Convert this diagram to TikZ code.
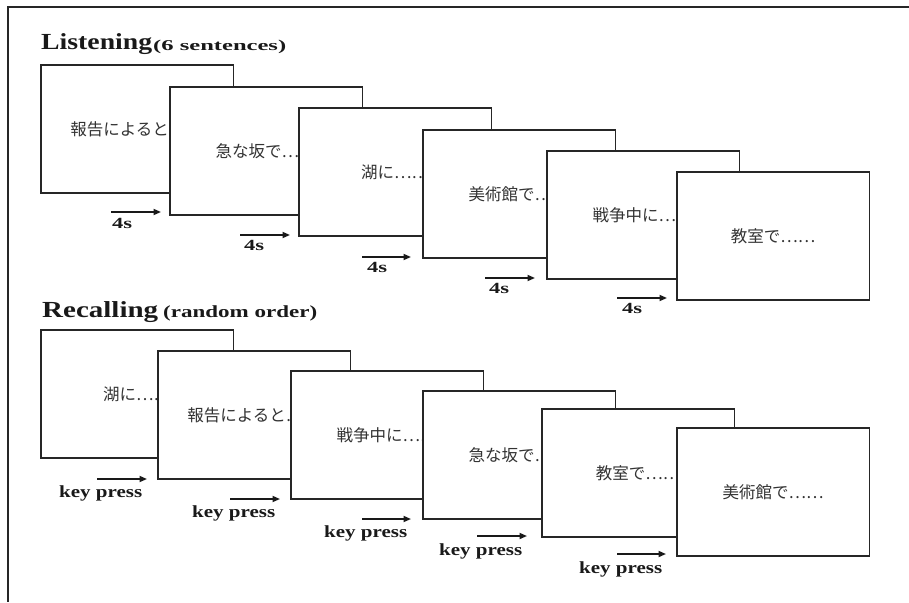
\documentclass[tikz,border=0pt]{standalone}
\usepackage{fontspec}
\usepackage{graphicx}
\setmainfont{Liberation Serif}
\newfontfamily\cjk{Noto Sans CJK JP}
\usetikzlibrary{arrows.meta}
\newcommand\fitw[3]{\resizebox{#1}{\height}{\fontsize{#2}{#2}\selectfont\bfseries #3}}
\begin{document}
\begin{tikzpicture}[x=1pt,y=-1pt,
  screen/.style={draw=black!85,line width=1.9pt,fill=white,anchor=north west,
    minimum width=192.5pt,minimum height=128pt,inner sep=0pt,
    font=\cjk\fontsize{16.5}{18}\selectfont,text=black!80},
  lbl/.style={anchor=base west,inner sep=0pt,text=black!90},
  arr/.style={line width=1.7pt,draw=black!90,-{Triangle[length=7.5pt,width=6pt]}}]
\useasboundingbox (0,0) rectangle (909,602);
\draw[line width=2pt,black!85] (909,7) -- (8,7) -- (8,602);
% titles
\node[lbl] (t1a) at (41,50) {\fitw{111pt}{23}{Listening}};
\node[lbl] (t1b) at (153,50) {\fitw{133pt}{15}{(6 sentences)}};
\node[lbl] (t2a) at (42,317) {\fitw{116pt}{23}{Recalling}};
\node[lbl] (t2b) at (163,317) {\fitw{154pt}{17}{(random order)}};
% listening screens
\node[screen] (L1) at (40,64) {報告によると⋯⋯};
\node[screen] (L2) at (169,86) {急な坂で⋯⋯};
\node[screen] (L3) at (298,107) {湖に⋯⋯};
\node[screen] (L4) at (422,129) {美術館で⋯⋯};
\node[screen] (L5) at (546,150) {戦争中に⋯⋯};
\node[screen] (L6) at (676,171) {教室で⋯⋯};
% recalling screens
\node[screen] (R1) at (40,329) {湖に⋯⋯};
\node[screen] (R2) at (157,350) {報告によると⋯⋯};
\node[screen] (R3) at (290,370) {戦争中に⋯⋯};
\node[screen] (R4) at (422,390) {急な坂で⋯⋯};
\node[screen] (R5) at (541,408) {教室で⋯⋯};
\node[screen] (R6) at (676,427) {美術館で⋯⋯};
% listening arrows
\coordinate (la1) at (111,212); \coordinate (lb1) at (161,212);
\coordinate (la2) at (240,235); \coordinate (lb2) at (290,235);
\coordinate (la3) at (362,257); \coordinate (lb3) at (411,257);
\coordinate (la4) at (485,278); \coordinate (lb4) at (535,278);
\coordinate (la5) at (617,298); \coordinate (lb5) at (667,298);
\foreach \i in {1,...,5} {\draw[arr] (la\i) -- (lb\i);}
\node[lbl] (s1) at (112,228) {\fitw{20pt}{15.5}{4s}};
\node[lbl] (s2) at (244,250) {\fitw{20pt}{15.5}{4s}};
\node[lbl] (s3) at (367,272) {\fitw{20pt}{15.5}{4s}};
\node[lbl] (s4) at (489,293) {\fitw{20pt}{15.5}{4s}};
\node[lbl] (s5) at (622,313) {\fitw{20pt}{15.5}{4s}};
% recalling arrows
\coordinate (ra1) at (97,479); \coordinate (rb1) at (147,479);
\coordinate (ra2) at (230,499); \coordinate (rb2) at (280,499);
\coordinate (ra3) at (362,519); \coordinate (rb3) at (411,519);
\coordinate (ra4) at (477,536); \coordinate (rb4) at (527,536);
\coordinate (ra5) at (617,554); \coordinate (rb5) at (666,554);
\foreach \i in {1,...,5} {\draw[arr] (ra\i) -- (rb\i);}
\node[lbl] (k1) at (59,497) {\fitw{83pt}{17}{key press}};
\node[lbl] (k2) at (192,517) {\fitw{83pt}{17}{key press}};
\node[lbl] (k3) at (324,537) {\fitw{83pt}{17}{key press}};
\node[lbl] (k4) at (439,555) {\fitw{83pt}{17}{key press}};
\node[lbl] (k5) at (579,573) {\fitw{83pt}{17}{key press}};
\end{tikzpicture}
\end{document}
